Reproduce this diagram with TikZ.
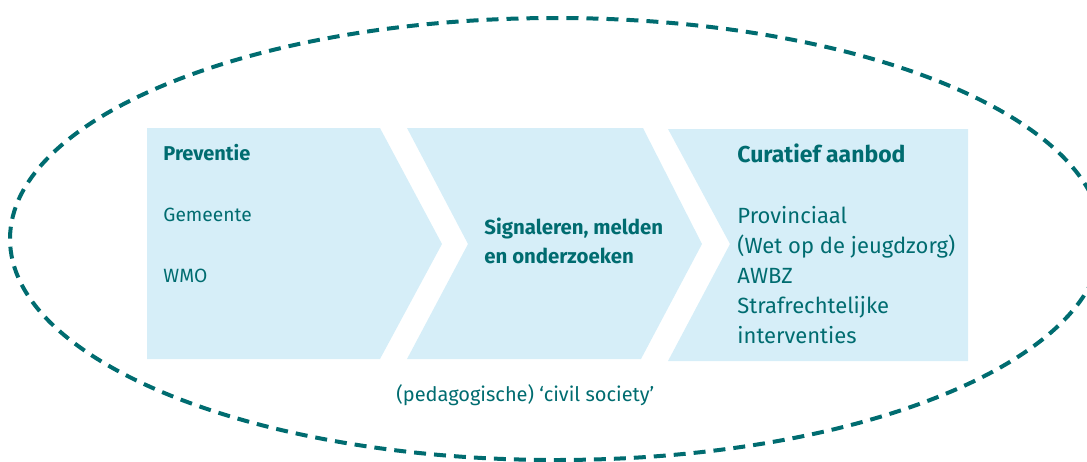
\documentclass[tikz,border=0pt]{standalone}
\usepackage{fontspec}
\setmainfont{Fira Sans}
\usetikzlibrary{positioning}
\definecolor{zorgteal}{RGB}{0,108,112}
\definecolor{zorgblue}{RGB}{214,238,248}

\begin{document}
\begin{tikzpicture}[x=0.5pt,y=-0.5pt,
  every node/.style={inner sep=0pt,anchor=base west,text=zorgteal,font=\fontsize{9.6}{15}\selectfont},
  kop/.style={font=\fontsize{10.2}{15}\selectfont\bfseries},
  rechts/.style={font=\fontsize{11}{15}\selectfont},
  rechtskop/.style={font=\fontsize{11.5}{15}\selectfont\bfseries},
  vlak/.style={fill=zorgblue,draw=none},
  rand/.style={draw=zorgteal,line width=2pt,dash pattern=on 6pt off 4pt}]
  \useasboundingbox (0,0) rectangle (1087,461);
  \clip (0,0) rectangle (1087,461);
  \fill[vlak] (147,128) -- (380,128) -- (442,244) -- (380,359) -- (147,359) -- cycle;
  \fill[vlak] (407,128) -- (643,128) -- (702,244) -- (641,359) -- (407,359) -- (468,244) -- cycle;
  \fill[vlak] (668,129) -- (968,129) -- (968,361) -- (668,361) -- (730,244) -- cycle;
  \draw[rand] (556,239) ellipse [x radius=546, y radius=221];
  \node[kop,font=\fontsize{10}{15}\selectfont\bfseries] (prev) at (163,160) {Preventie};
  \node (gem) at (163,221) {Gemeente};
  \node (wmo) at (163,282) {WMO};
  \node[kop] (sig) at (484,234) {Signaleren, melden};
  \node[kop] (ond) at (484,263) {en onderzoeken};
  \node[rechtskop] (cur) at (737,162) {Curatief aanbod};
  \node[rechts] (prov) at (737,223) {Provinciaal};
  \node[rechts] (wet) at (737,253) {(Wet op de jeugdzorg)};
  \node[rechts] (awbz) at (737,283) {AWBZ};
  \node[rechts] (straf) at (737,313) {Strafrechtelijke};
  \node[rechts] (int) at (737,343) {interventies};
  \node[font=\fontsize{10}{15}\selectfont] (civ) at (396,401) {(pedagogische) ‘civil society’};
\end{tikzpicture}
\end{document}
